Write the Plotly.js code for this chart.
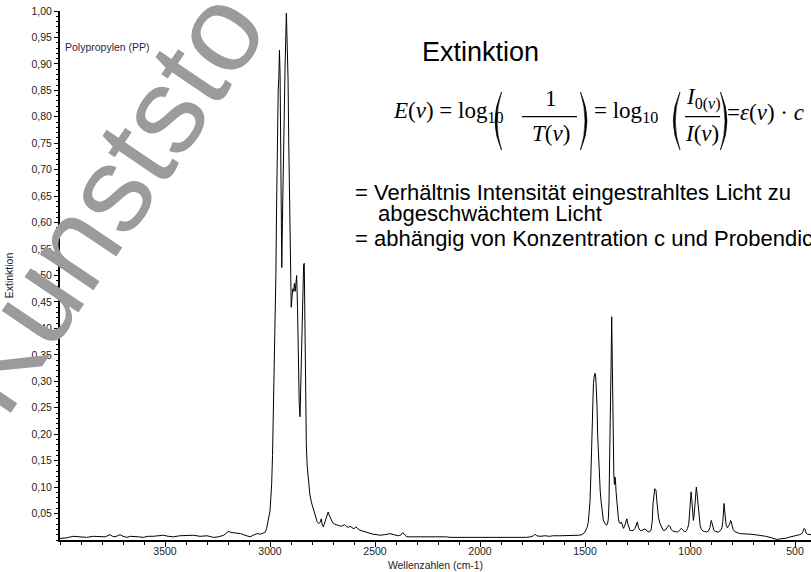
<!DOCTYPE html>
<html>
<head>
<meta charset="utf-8">
<script src="https://cdn.plot.ly/plotly-3.0.1.min.js"></script>
<style>html,body{margin:0;padding:0;background:#fff;}#chart{width:811px;height:572px;}</style>
</head>
<body>
<div id="chart"></div>
<script>
// Wavenumbers (cm-1) and extinction values
const wavenumbers = [
4000,3970,3937,3905,3873,3840,3810,3785,3762,3750,3738,3725,3714,3700,3682,3665,3651,3625,3603,3580,
3556,3530,3508,3485,3460,3430,3397,3365,3333,3300,3270,3246,3220,3199,3180,3159,3140,3119,3095,3080,
3063,3045,3032,3022,3016,3008,3000,2996,2992,2988,2984,2980,2976,2972,2969,2967,2964,2961,2958,2955,
2952,2949,2946,2944,2941,2937,2933,2928,2922,2917,2914,2911,2908,2905,2902,2899,2895,2891,2887,2884,
2880,2877,2873,2869,2865,2861,2857,2853,2849,2845,2840,2837,2834,2831,2827,2823,2818,2810,2802,2794,
2785,2776,2768,2760,2756,2752,2746,2740,2734,2727,2723,2717,2710,2702,2692,2682,2670,2660,2651,2645,
2635,2625,2619,2610,2600,2592,2585,2575,2560,2545,2530,2510,2490,2476,2455,2440,2429,2410,2389,2375,
2368,2360,2349,2330,2301,2270,2240,2222,2190,2160,2143,2100,2063,2020,1980,1950,1905,1870,1830,1800,
1778,1760,1745,1738,1730,1714,1690,1670,1651,1620,1587,1555,1530,1515,1505,1498,1490,1484,1479,1476,
1471,1468,1465,1460,1456,1452,1449,1446,1443,1440,1436,1433,1428,1424,1418,1413,1405,1397,1392,1389,
1386,1384,1381,1378,1376,1373,1371,1369,1366,1363,1360,1357,1355,1352,1349,1345,1341,1337,1333,1327,
1322,1317,1310,1305,1301,1297,1292,1286,1278,1270,1262,1255,1251,1246,1238,1230,1222,1214,1205,1195,
1186,1180,1176,1172,1168,1165,1162,1159,1156,1150,1143,1135,1127,1117,1108,1101,1096,1090,1082,1070,
1060,1050,1042,1036,1028,1020,1012,1006,1002,999,997,995,992,989,986,984,981,978,975,972,
970,967,964,960,957,952,946,938,930,921,912,905,901,899,896,892,886,878,865,855,
848,844,841,838,835,832,828,822,816,811,807,804,800,795,788,780,770,760,740,714,
690,667,640,619,600,587,575,560,545,530,515,500,490,478,468,462,457,452,447,441,
433,424];
const extinction = [
0.003,0.004,0.007,0.006,0.005,0.007,0.007,0.006,0.010,0.007,0.006,0.009,0.010,0.007,0.005,0.007,0.007,0.006,0.005,0.007,
0.007,0.008,0.009,0.007,0.006,0.008,0.008,0.009,0.007,0.008,0.005,0.006,0.009,0.016,0.014,0.013,0.012,0.009,0.006,0.009,
0.012,0.011,0.013,0.015,0.022,0.040,0.055,0.080,0.107,0.160,0.230,0.300,0.390,0.500,0.620,0.720,0.800,0.850,0.875,0.926,
0.880,0.780,0.640,0.515,0.600,0.720,0.820,0.900,0.996,0.920,0.870,0.760,0.670,0.570,0.480,0.440,0.460,0.475,0.470,0.485,
0.470,0.490,0.500,0.440,0.340,0.260,0.233,0.300,0.400,0.480,0.520,0.523,0.420,0.250,0.180,0.140,0.119,0.085,0.070,0.058,
0.046,0.035,0.031,0.034,0.040,0.030,0.025,0.033,0.042,0.050,0.053,0.046,0.038,0.033,0.030,0.028,0.027,0.026,0.028,0.029,
0.025,0.024,0.026,0.023,0.021,0.025,0.022,0.019,0.017,0.015,0.013,0.011,0.010,0.009,0.010,0.011,0.012,0.010,0.008,0.010,
0.014,0.011,0.006,0.006,0.006,0.007,0.006,0.007,0.006,0.006,0.005,0.005,0.005,0.004,0.004,0.005,0.004,0.004,0.004,0.004,
0.005,0.006,0.008,0.011,0.008,0.007,0.008,0.007,0.008,0.008,0.008,0.008,0.009,0.010,0.013,0.017,0.024,0.035,0.055,0.075,
0.138,0.200,0.264,0.296,0.310,0.315,0.308,0.290,0.255,0.200,0.155,0.125,0.095,0.075,0.050,0.038,0.031,0.028,0.032,0.040,
0.070,0.110,0.220,0.300,0.330,0.422,0.360,0.260,0.160,0.125,0.105,0.119,0.113,0.090,0.075,0.055,0.040,0.033,0.031,0.034,
0.026,0.022,0.028,0.036,0.040,0.032,0.024,0.018,0.018,0.018,0.022,0.030,0.034,0.024,0.018,0.018,0.020,0.021,0.017,0.015,
0.018,0.035,0.070,0.092,0.097,0.096,0.094,0.078,0.062,0.042,0.031,0.023,0.018,0.019,0.024,0.028,0.026,0.020,0.017,0.016,
0.015,0.018,0.022,0.020,0.016,0.016,0.022,0.030,0.050,0.075,0.088,0.091,0.078,0.062,0.045,0.037,0.045,0.062,0.085,0.098,
0.100,0.090,0.075,0.052,0.038,0.028,0.020,0.017,0.016,0.015,0.017,0.024,0.033,0.037,0.033,0.024,0.018,0.016,0.015,0.018,
0.023,0.035,0.052,0.069,0.055,0.040,0.028,0.023,0.026,0.030,0.037,0.035,0.028,0.020,0.016,0.014,0.013,0.012,0.011,0.011,
0.010,0.009,0.007,0.005,0.003,0.001,0.002,0.002,0.003,0.005,0.007,0.008,0.009,0.010,0.012,0.016,0.022,0.020,0.013,0.011,
0.010,0.010];
const xTickVals = [3500,3000,2500,2000,1500,1000,500];
const yTickVals = [0.05,0.10,0.15,0.20,0.25,0.30,0.35,0.40,0.45,0.50,0.55,0.60,0.65,0.70,0.75,0.80,0.85,0.90,0.95,1.00];
const sampleLabel = 'Polypropylen (PP)';
const xTitle = 'Wellenzahlen (cm-1)';
const yTitle = 'Extinktion';

// plot geometry (pixels) for placing page text
const L = 60, R = 0, T = 11, B = 32, W = 811 - L - R, H = 572 - T - B;
const px = x => (x - L) / W;
const py = y => (572 - B - y) / H;

const serif = 'Liberation Serif, Times New Roman, serif';
const sans = 'Liberation Sans, Arial, sans-serif';

function ann(text, x, y, opt) {
  return Object.assign({
    text: text, xref: 'paper', yref: 'paper', x: px(x), y: py(y),
    xanchor: 'left', yanchor: 'middle', showarrow: false,
    font: {family: sans, size: 22, color: '#000'}
  }, opt || {});
}

const annotations = [
  ann('Kunststo', 103, 201, {xanchor: 'center', textangle: -56, font: {family: sans, size: 122, color: '#9b9b9b'}}),
  ann(sampleLabel, 63, 47.5, {font: {family: sans, size: 10.5, color: '#2a2a3a'}}),
  ann('Extinktion', 420, 52, {font: {family: sans, size: 27, color: '#000'}}),
  ann('<i>E</i>(<i>ν</i>) = log<sub>10</sub>', 391, 112, {font: {family: serif, size: 23, color: '#000'}}),
  ann('1', 551, 98, {xanchor: 'center', font: {family: serif, size: 23, color: '#000'}}),
  ann('<i>T</i>(<i>ν</i>)', 551, 133, {xanchor: 'center', font: {family: serif, size: 23, color: '#000'}}),
  ann('= log<sub>10</sub>', 592, 112, {font: {family: serif, size: 23, color: '#000'}}),
  ann('<i>I</i><sub>0(<i>ν</i>)</sub>', 703, 98, {xanchor: 'center', font: {family: serif, size: 23, color: '#000'}}),
  ann('<i>I</i>(<i>ν</i>)', 702, 133, {xanchor: 'center', font: {family: serif, size: 23, color: '#000'}}),
  ann('=<i>ε</i>(<i>ν</i>) · <i>c</i>', 725, 112, {font: {family: serif, size: 23, color: '#000'}}),
  ann('= Verhältnis Intensität eingestrahltes Licht zu', 353, 192),
  ann('abgeschwächtem Licht', 376, 213),
  ann('= abhängig von Konzentration c und Probendicke d', 353, 238)
];

function paren(xTip, xOuter, xInner, yTop, yBot) {
  const ym = (yTop + yBot) / 2;
  const c1 = 2 * xOuter - xTip, c2 = 2 * xInner - xTip;
  return {
    type: 'path', xref: 'paper', yref: 'paper',
    path: 'M ' + px(xTip) + ' ' + py(yTop) + ' Q ' + px(c1) + ' ' + py(ym) + ' ' + px(xTip) + ' ' + py(yBot) +
          ' Q ' + px(c2) + ' ' + py(ym) + ' ' + px(xTip) + ' ' + py(yTop) + ' Z',
    fillcolor: '#000', line: {color: '#000', width: 0.6}
  };
}
function bar(x0, x1, y) {
  return {type: 'line', xref: 'paper', yref: 'paper', x0: px(x0), x1: px(x1), y0: py(y), y1: py(y),
          line: {color: '#000', width: 1.3}};
}
const shapes = [
  paren(501.5, 495, 497, 92, 150),
  paren(580.5, 587, 585, 92, 150),
  paren(680, 673.3, 675.3, 92, 150),
  paren(720.5, 727, 725, 92, 150),
  bar(522, 577, 116.7),
  bar(685, 720, 116.7)
];

const trace = {
  x: wavenumbers, y: extinction, type: 'scatter', mode: 'lines',
  line: {color: '#000', width: 1}, hoverinfo: 'skip'
};

const layout = {
  width: 811, height: 572,
  margin: {l: L, r: R, t: T, b: B, pad: 0},
  paper_bgcolor: '#fff', plot_bgcolor: '#fff',
  showlegend: false,
  separators: ',.',
  font: {family: sans, size: 10.5, color: '#222'},
  xaxis: {
    range: [4000, 424], tickmode: 'array', tickvals: xTickVals,
    ticks: 'outside', ticklen: 5, tickwidth: 1, tickcolor: '#000', ticklabelstandoff: -5,
    showline: true, linewidth: 2, linecolor: '#000', showgrid: false, zeroline: false,
    minor: {tick0: 0, dtick: 100, ticks: 'outside', ticklen: 3, tickwidth: 1, tickcolor: '#000', showgrid: false},
    tickfont: {family: sans, size: 10.5, color: '#222'},
    title: {text: xTitle, font: {family: sans, size: 10.4, color: '#222'}, standoff: 6}
  },
  yaxis: {
    range: [0, 1.0], tickmode: 'array', tickvals: yTickVals, tickformat: '.2f',
    ticks: 'outside', ticklen: 4, tickwidth: 1, tickcolor: '#000',
    showline: true, linewidth: 2, linecolor: '#000', showgrid: false, zeroline: false,
    minor: {tick0: 0, dtick: 0.01, ticks: 'outside', ticklen: 2.5, tickwidth: 1, tickcolor: '#000', showgrid: false},
    tickfont: {family: sans, size: 10.5, color: '#222'},
    title: {text: yTitle, font: {family: sans, size: 10.5, color: '#222'}, standoff: 16}
  },
  annotations: annotations,
  shapes: shapes
};

Plotly.newPlot('chart', [trace], layout, {staticPlot: true, displayModeBar: false});
</script>
</body>
</html>
